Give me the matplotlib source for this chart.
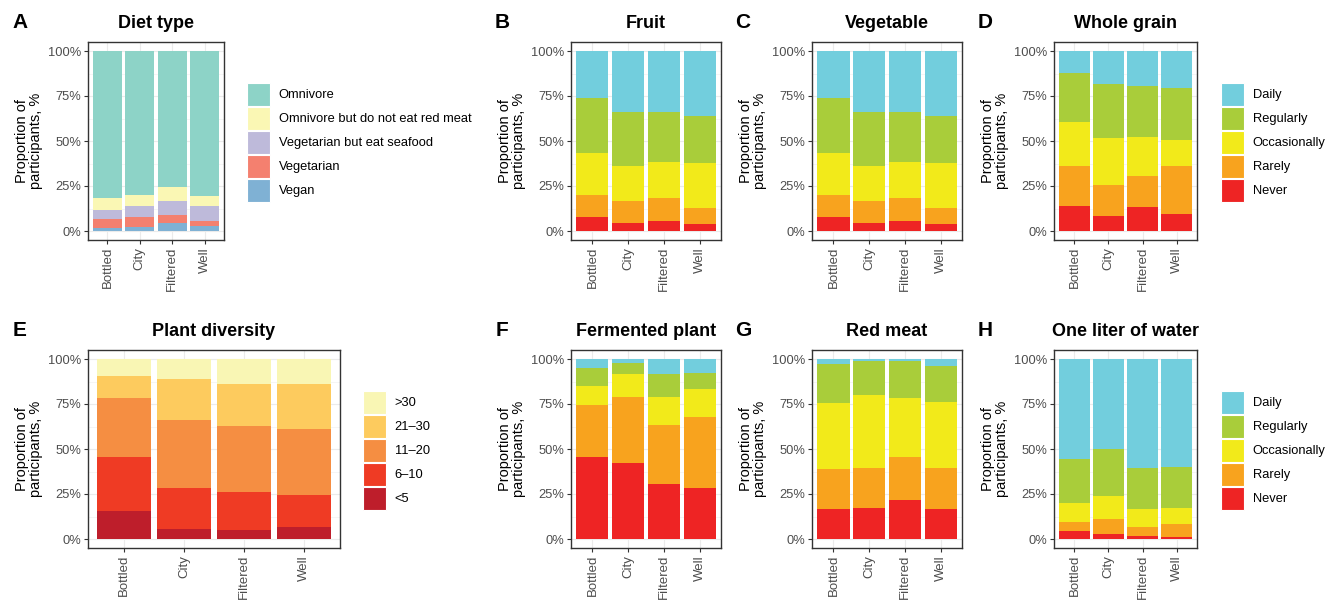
import matplotlib
matplotlib.use("Agg")
import matplotlib.pyplot as plt
from matplotlib.patches import Patch

plt.rcParams['font.family'] = ['Liberation Sans', 'DejaVu Sans']

W, H = 1339, 601

categories = ["Bottled", "City", "Filtered", "Well"]

# frequency levels, legend order (top of stack first)
freq_levels = ["Daily", "Regularly", "Occasionally", "Rarely", "Never"]
freq_colors = ["#72CEDD", "#A9CD3A", "#F2EA1A", "#F8A31E", "#EE2424"]

diet_levels = ["Omnivore", "Omnivore but do not eat red meat",
               "Vegetarian but eat seafood", "Vegetarian", "Vegan"]
diet_colors = ["#8DD3C7", "#FAF7B4", "#BEBADA", "#F4806F", "#7FB1D4"]

plant_levels = [">30", "21\u201330", "11\u201320", "6\u201310", "<5"]
plant_colors = ["#F9F6B4", "#FDCB5E", "#F58E42", "#EF3B24", "#BE1E2B"]

# segment sizes in %, per level, for Bottled/City/Filtered/Well
diet = {
    "Omnivore": [81.8, 80.1, 75.7, 80.7],
    "Omnivore but do not eat red meat": [6.6, 6.1, 7.7, 5.5],
    "Vegetarian but eat seafood": [5.0, 6.1, 7.8, 8.3],
    "Vegetarian": [4.9, 5.5, 4.4, 2.7],
    "Vegan": [1.7, 2.2, 4.4, 2.8],
}
fruit = {
    "Daily": [26.0, 33.7, 33.7, 35.9],
    "Regularly": [30.9, 30.4, 28.2, 26.5],
    "Occasionally": [23.2, 19.3, 19.9, 24.9],
    "Rarely": [12.2, 12.2, 12.7, 8.8],
    "Never": [7.7, 4.4, 5.5, 3.9],
}
vegetable = {
    "Daily": [26.0, 33.7, 33.7, 35.9],
    "Regularly": [30.9, 30.4, 28.2, 26.5],
    "Occasionally": [23.2, 19.3, 19.9, 24.9],
    "Rarely": [12.2, 12.2, 12.7, 8.8],
    "Never": [7.7, 4.4, 5.5, 3.9],
}
whole_grain = {
    "Daily": [12.0, 18.6, 19.7, 20.8],
    "Regularly": [27.2, 29.8, 27.8, 28.4],
    "Occasionally": [24.9, 26.2, 22.1, 14.9],
    "Rarely": [22.1, 17.1, 17.1, 26.5],
    "Never": [13.8, 8.3, 13.3, 9.4],
}
plant_diversity = {
    ">30": [9.6, 11.2, 14.0, 14.0],
    "21\u201330": [12.1, 22.7, 23.2, 24.9],
    "11\u201320": [32.6, 37.6, 36.5, 36.4],
    "6\u201310": [30.4, 23.2, 21.5, 18.3],
    "<5": [15.3, 5.3, 4.8, 6.4],
}
fermented_plant = {
    "Daily": [5.0, 2.4, 8.3, 8.0],
    "Regularly": [10.1, 6.1, 12.9, 8.8],
    "Occasionally": [10.5, 12.7, 15.4, 15.4],
    "Rarely": [28.7, 36.4, 32.6, 39.3],
    "Never": [45.7, 42.4, 30.8, 28.5],
}
red_meat = {
    "Daily": [2.8, 1.3, 1.3, 3.9],
    "Regularly": [21.7, 18.8, 20.4, 20.0],
    "Occasionally": [36.5, 40.3, 32.6, 36.5],
    "Rarely": [22.6, 22.1, 23.8, 23.2],
    "Never": [16.4, 17.5, 21.9, 16.4],
}
water = {
    "Daily": [55.8, 49.9, 60.8, 60.2],
    "Regularly": [24.3, 26.3, 22.6, 22.7],
    "Occasionally": [10.5, 12.8, 10.0, 8.8],
    "Rarely": [5.0, 8.2, 4.9, 7.2],
    "Never": [4.4, 2.8, 1.7, 1.1],
}


def rect(x0, y0, x1, y1):
    return [x0 / W, 1 - y1 / H, (x1 - x0) / W, (y1 - y0) / H]


def draw_panel(fig, box, data, levels, colors, title, letter):
    ax = fig.add_axes(rect(*box))
    x = list(range(1, len(categories) + 1))
    bottom = [0.0] * len(categories)
    # stack from last level (bottom) to first level (top)
    for lev, col in zip(reversed(levels), reversed(colors)):
        vals = [v / 100 for v in data[lev]]
        ax.bar(x, vals, width=0.9, bottom=bottom, color=col, linewidth=0, zorder=3)
        bottom = [b + v for b, v in zip(bottom, vals)]

    ax.set_xlim(0.4, len(categories) + 0.6)
    ax.set_ylim(-0.05, 1.05)
    ax.set_xticks(x)
    ax.set_xticklabels(categories, rotation=90, fontsize=9.5, color="#4D4D4D")
    ax.set_yticks([0, 0.25, 0.5, 0.75, 1.0])
    ax.set_yticklabels(["0%", "25%", "50%", "75%", "100%"], fontsize=9.3, color="#4D4D4D")
    ax.set_yticks([0.125, 0.375, 0.625, 0.875], minor=True)
    ax.grid(True, which="major", color="#EBEBEB", linewidth=0.8, zorder=0)
    ax.grid(True, which="minor", axis="y", color="#F2F2F2", linewidth=0.5, zorder=0)
    ax.tick_params(axis="both", which="major", length=3, width=0.8, color="#333333", pad=2)
    ax.tick_params(axis="both", which="minor", length=0)
    for s in ax.spines.values():
        s.set_color("#333333")
        s.set_linewidth(1.0)
    ax.set_axisbelow(True)

    x0, y0, x1, y1 = box
    fig.text((x0 + x1) / 2 / W, 1 - 23 / H if y0 < 300 else 1 - 332 / H, title,
             ha="center", va="center", fontsize=13, fontweight="bold")
    fig.text((x0 - 59) / W, 1 - (y0 + y1) / 2 / H, "Proportion of\nparticipants, %",
             rotation=90, ha="center", va="center", fontsize=10.5, linespacing=1.0,
             multialignment="center")
    lx = 20 if x0 < 100 else x0 - 69
    fig.text(lx / W, 1 - (23 if y0 < 300 else 331) / H, letter, ha="center",
             va="center", fontsize=15, fontweight="bold")
    return ax


def draw_legend(fig, x, ytop, levels, colors):
    handles = [Patch(facecolor=c, edgecolor="white", linewidth=0.8) for c in colors]
    fig.legend(handles, levels, loc="upper left",
               bbox_to_anchor=(x / W, 1 - ytop / H), frameon=False,
               fontsize=9.3, handlelength=1.8, handleheight=2.35,
               labelspacing=0.08, handletextpad=0.65, borderpad=0,
               borderaxespad=0)


fig = plt.figure(figsize=(W / 100, H / 100), dpi=100)

top = (42, 240)
bot = (350, 548)

draw_panel(fig, (88, top[0], 224, top[1]), diet, diet_levels, diet_colors, "Diet type", "A")
draw_legend(fig, 247, 83, diet_levels, diet_colors)

draw_panel(fig, (571, top[0], 721, top[1]), fruit, freq_levels, freq_colors, "Fruit", "B")
draw_panel(fig, (812, top[0], 962, top[1]), vegetable, freq_levels, freq_colors, "Vegetable", "C")
draw_panel(fig, (1054, top[0], 1197, top[1]), whole_grain, freq_levels, freq_colors, "Whole grain", "D")
draw_legend(fig, 1221, 83, freq_levels, freq_colors)

draw_panel(fig, (88, bot[0], 340, bot[1]), plant_diversity, plant_levels, plant_colors, "Plant diversity", "E")
draw_legend(fig, 363, 391, plant_levels, plant_colors)

draw_panel(fig, (571, bot[0], 721, bot[1]), fermented_plant, freq_levels, freq_colors, "Fermented plant", "F")
draw_panel(fig, (812, bot[0], 962, bot[1]), red_meat, freq_levels, freq_colors, "Red meat", "G")
draw_panel(fig, (1054, bot[0], 1197, bot[1]), water, freq_levels, freq_colors, "One liter of water", "H")
draw_legend(fig, 1221, 391, freq_levels, freq_colors)

fig.savefig("out.png", dpi=100)
